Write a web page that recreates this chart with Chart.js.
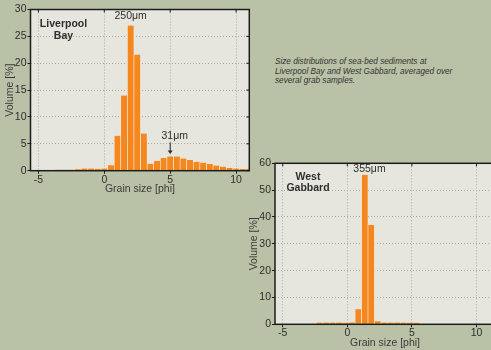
<!DOCTYPE html>
<html>
<head>
<meta charset="utf-8">
<script src="https://cdn.jsdelivr.net/npm/chart.js@4/dist/chart.umd.min.js"></script>
<style>
    html, body { margin: 0; padding: 0; }
    body {
        width: 491px; height: 350px; overflow: hidden; position: relative;
        background: #b9c2a6;
        font-family: 'Liberation Sans', Arial, sans-serif;
    }
    #liverpoolChart { position: absolute; left: 0; top: 0; }
    #gabbardChart { position: absolute; left: 240px; top: 150px; }
    .caption {
        position: absolute; left: 275px; top: 57px;
        font: italic 8.2px 'Liberation Sans', Arial, sans-serif;
        line-height: 9.7px; color: #333; white-space: nowrap;
    }
</style>
</head>
<body>
<canvas id="liverpoolChart" width="262" height="195"></canvas>
<canvas id="gabbardChart" width="260" height="200"></canvas>
<div class="caption">Size distributions of sea-bed sediments at<br>Liverpool Bay and West Gabbard, averaged over<br>several grab samples.</div>
<script>
// grain size bins (phi) and volume percentages
const xTicks = [-5, 0, 5, 10];

const phiLiverpool = [-4.5, -4, -3.5, -3, -2.5, -2, -1.5, -1, -0.5, 0, 0.5, 1, 1.5, 2, 2.5, 3,
    3.5, 4, 4.5, 5, 5.5, 6, 6.5, 7, 7.5, 8, 8.5, 9, 9.5, 10, 10.5, 11];
const volLiverpool = [0.05, 0.08, 0.2, 0.2, 0.2, 0.25, 0.4, 0.4, 0.35, 0.4, 1.0, 6.5, 14.0, 27.0, 21.6, 6.9,
    1.3, 1.8, 2.35, 2.65, 2.65, 2.25, 2.0, 1.65, 1.5, 1.25, 0.95, 0.75, 0.5, 0.4, 0.3, 0.3];
const yTicksLiverpool = [0, 5, 10, 15, 20, 25, 30];

const phiGabbard = [-2.65, -2.15, -1.65, -1.15, -0.65, -0.15, 0.35, 0.85, 1.35, 1.85, 2.35,
    2.85, 3.35, 3.85, 4.35, 4.85, 5.35];
const volGabbard = [0.2, 0.65, 0.65, 0.65, 0.65, 0.6, 0.7, 5.6, 55.7, 37.0, 1.1,
    0.65, 0.65, 0.65, 0.65, 0.6, 0.6];
const yTicksGabbard = [0, 10, 20, 30, 40, 50, 60];

const inkColor = '#2e2e2e';
const barColor = '#f5871f';
const plotBg = '#e6e6df';

// plot background, box frame, inner ticks and the text notes
const framePlugin = {
    id: 'frame',
    beforeDraw(chart) {
        const a = chart.chartArea;
        const ctx = chart.ctx;
        ctx.save();
        ctx.fillStyle = plotBg;
        ctx.fillRect(a.left, a.top, a.right - a.left, a.bottom - a.top);
        ctx.restore();
    },
    afterDraw(chart, args, opts) {
        const a = chart.chartArea;
        const ctx = chart.ctx;
        const xs = chart.scales.x;
        const ys = chart.scales.y;
        ctx.save();
        ctx.strokeStyle = '#1c1c1c';
        ctx.lineWidth = 1.5;
        ctx.strokeRect(a.left, a.top, a.right - a.left, a.bottom - a.top);

        ctx.lineWidth = 1;
        xs.ticks.forEach(t => {
            const px = xs.getPixelForValue(t.value);
            ctx.beginPath();
            ctx.moveTo(px, a.top);
            ctx.lineTo(px, a.top + 3);
            ctx.stroke();
        });
        ys.ticks.forEach(t => {
            const py = ys.getPixelForValue(t.value);
            ctx.beginPath();
            ctx.moveTo(a.right, py);
            ctx.lineTo(a.right - 3, py);
            ctx.stroke();
        });

        ctx.fillStyle = inkColor;
        ctx.textAlign = 'center';
        ctx.textBaseline = 'middle';

        ctx.font = 'bold 10.5px "Liberation Sans", Arial, sans-serif';
        opts.name.forEach((line, i) => {
            ctx.fillText(line, a.left + 33, a.top + opts.nameTop + i * 11.5);
        });

        ctx.font = '10.5px "Liberation Sans", Arial, sans-serif';
        opts.notes.forEach(n => {
            const px = xs.getPixelForValue(n.x);
            const py = ys.getPixelForValue(n.y);
            ctx.fillText(n.text, px + n.dx, py + n.dy);
            if (n.arrow) {
                ctx.strokeStyle = '#222';
                ctx.lineWidth = 1;
                ctx.beginPath();
                ctx.moveTo(px, py - 14);
                ctx.lineTo(px, py - 5);
                ctx.stroke();
                ctx.beginPath();
                ctx.moveTo(px - 2.5, py - 6);
                ctx.lineTo(px + 2.5, py - 6);
                ctx.lineTo(px, py - 2.5);
                ctx.closePath();
                ctx.fill();
            }
        });
        ctx.restore();
    }
};

function makeHistogram(canvasId, phi, vol, yTicks, setup) {
    const ctx = document.getElementById(canvasId).getContext('2d');
    return new Chart(ctx, {
        type: 'bar',
        data: {
            datasets: [{
                data: phi.map((p, i) => ({ x: p, y: vol[i] })),
                backgroundColor: barColor,
                borderColor: '#f7f6f1',
                borderWidth: { left: 0.6, right: 0.6, top: 0, bottom: 0 },
                borderSkipped: false,
                barPercentage: 1,
                categoryPercentage: 1
            }]
        },
        options: {
            responsive: false,
            animation: false,
            layout: { padding: setup.padding, autoPadding: false },
            plugins: {
                legend: { display: false },
                tooltip: { enabled: false },
                frame: { name: setup.name, nameTop: setup.nameTop, notes: setup.notes }
            },
            scales: {
                x: {
                    type: 'linear',
                    offset: false,
                    min: setup.xMin,
                    max: setup.xMax,
                    afterBuildTicks: scale => { scale.ticks = xTicks.map(v => ({ value: v })); },
                    afterFit: scale => { scale.height = setup.xHeight; },
                    grid: { color: '#a9a9a4', tickColor: '#1c1c1c', tickLength: 3, offset: false },
                    border: { display: false, dash: [1, 2] },
                    ticks: { padding: 0, color: inkColor, font: { size: 10.5, family: '"Liberation Sans", Arial' }, maxRotation: 0 },
                    title: { display: true, text: 'Grain size [phi]', color: '#3a3a3a', padding: { top: 0, bottom: setup.xTitlePad },
                        font: { size: 10.5, family: '"Liberation Sans", Arial' } }
                },
                y: {
                    min: 0,
                    max: yTicks[yTicks.length - 1],
                    afterBuildTicks: scale => { scale.ticks = yTicks.map(v => ({ value: v })); },
                    afterFit: scale => { scale.width = setup.yWidth; },
                    grid: { color: '#a9a9a4', tickColor: '#1c1c1c', tickLength: 3 },
                    border: { display: false, dash: [1, 2] },
                    ticks: { padding: 1, color: inkColor, font: { size: 10.5, family: '"Liberation Sans", Arial' } },
                    title: { display: true, text: 'Volume [%]', color: '#3a3a3a', padding: { top: setup.yTitlePad, bottom: 0 },
                        font: { size: 10.5, family: '"Liberation Sans", Arial' } }
                }
            }
        },
        plugins: [framePlugin]
    });
}

let liverpoolChart = makeHistogram('liverpoolChart', phiLiverpool, volLiverpool, yTicksLiverpool, {
    padding: { top: 9.5, right: 12.7, left: 0, bottom: 0 },
    xMin: -5.6, xMax: 11,
    xHeight: 24.3, yWidth: 30.5,
    xTitlePad: 0, yTitlePad: 4,
    name: ['Liverpool', 'Bay'], nameTop: 15,
    notes: [
        { text: '250μm', x: 2, y: 27, dx: 0, dy: -9.6 },
        { text: '31μm', x: 5, y: 2.65, dx: 4.5, dy: -20, arrow: true }
    ]
});

let gabbardChart = makeHistogram('gabbardChart', phiGabbard, volGabbard, yTicksGabbard, {
    padding: { top: 13.3, right: 5, left: 0, bottom: 0 },
    xMin: -5.6, xMax: 11.43,
    xHeight: 25.7, yWidth: 35,
    xTitlePad: 0.5, yTitlePad: 8,
    name: ['West', 'Gabbard'], nameTop: 13.4,
    notes: [
        { text: '355μm', x: 1.35, y: 55.7, dx: 4.7, dy: -6 }
    ]
});
</script>
</body>
</html>
